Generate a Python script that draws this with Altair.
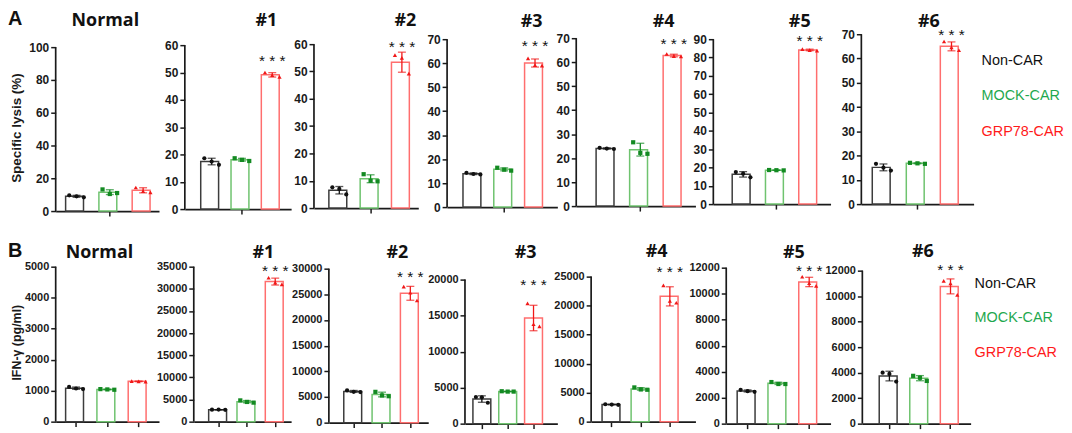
import altair as alt
import pandas as pd

groups = ["Non-CAR", "MOCK-CAR", "GRP78-CAR"]
legend_colors = ["#111111", "#1fa84f", "#ff1a1a"]
bar_colors = ["#3c3c3c", "#6fc36f", "#ff6e6e"]
dot_colors = ["#111111", "#138a22", "#f01818"]
dot_shapes = ["circle", "square", "triangle-up"]
panels = ["Normal", "#1", "#2", "#3", "#4", "#5", "#6"]

# Row A: specific lysis (%), three replicates per group (Non-CAR, MOCK-CAR, GRP78-CAR)
lysis_normal = [[9.6, 9.0, 8.4], [13.2, 10.4, 11.0], [14.4, 12.2, 11.4]]
lysis_1 = [[18.6, 17.4, 16.2], [18.6, 18.0, 17.6], [50.0, 49.0, 48.4]]
lysis_2 = [[7.6, 7.0, 5.0], [12.4, 10.0, 9.8], [56.0, 55.0, 49.2]]
lysis_3 = [[14.3, 13.8, 13.6], [16.4, 15.6, 15.2], [62.0, 59.2, 59.0]]
lysis_4 = [[24.3, 24.0, 23.8], [26.6, 22.2, 21.8], [63.4, 62.5, 62.4]]
lysis_5 = [[17.5, 16.6, 14.6], [18.6, 18.5, 18.4], [84.6, 84.0, 83.8]]
lysis_6 = [[16.6, 15.0, 13.8], [17.0, 16.8, 16.6], [67.0, 64.6, 63.4]]
lysis_sets = [lysis_normal, lysis_1, lysis_2, lysis_3, lysis_4, lysis_5, lysis_6]
lysis_ticks = [
    [0, 20, 40, 60, 80, 100],
    [0, 10, 20, 30, 40, 50, 60],
    [0, 10, 20, 30, 40, 50, 60],
    [0, 10, 20, 30, 40, 50, 60, 70],
    [0, 10, 20, 30, 40, 50, 60, 70],
    [0, 10, 20, 30, 40, 50, 60, 70, 80, 90],
    [0, 10, 20, 30, 40, 50, 60, 70],
]

# Row B: IFN-gamma (pg/ml)
ifn_normal = [[1120, 1070, 1050], [1050, 1040, 1030], [1310, 1300, 1290]]
ifn_1 = [[2700, 2720, 2680], [4800, 4450, 4300], [32500, 31400, 31000]]
ifn_2 = [[6300, 6000, 5950], [6000, 5300, 5150], [26500, 25300, 23800]]
ifn_3 = [[3700, 3650, 2900], [4500, 4450, 4450], [16700, 13800, 13500]]
ifn_4 = [[3000, 2950, 2900], [5900, 5550, 5500], [23500, 20800, 20500]]
ifn_5 = [[2600, 2500, 2450], [3200, 3050, 3050], [11300, 10800, 10600]]
ifn_6 = [[4000, 3900, 3300], [3750, 3600, 3350], [11200, 11000, 10100]]
ifn_sets = [ifn_normal, ifn_1, ifn_2, ifn_3, ifn_4, ifn_5, ifn_6]
ifn_ticks = [
    [0, 1000, 2000, 3000, 4000, 5000],
    [0, 5000, 10000, 15000, 20000, 25000, 30000, 35000],
    [0, 5000, 10000, 15000, 20000, 25000, 30000],
    [0, 5000, 10000, 15000, 20000],
    [0, 5000, 10000, 15000, 20000, 25000],
    [0, 2000, 4000, 6000, 8000, 10000, 12000],
    [0, 2000, 4000, 6000, 8000, 10000, 12000],
]

# ---- layout (pixel geometry, styling only) ----
# axis_x0, first bar start, last bar end, axis_x1, plot top, plot bottom, title center x, bar width, star dy
geom_a = [
    (53, 63, 152, 157, 40, 205, 103, 22, 0),
    (183, 199, 282, 290, 38, 203, 265, 22, -14),
    (313, 328, 412, 418, 37, 202, 405, 21, -10),
    (447, 463, 546, 558, 32, 201, 532, 21, -14),
    (577, 597, 686, 697, 31, 200, 665, 21.5, -12),
    (715, 734, 823, 833, 32, 198, 802, 22, -10),
    (864, 875, 966, 977, 27, 198, 932, 22.5, -9),
]
geom_b = [
    (53, 63, 147, 157, 263, 419, 97, 21, 0),
    (192, 207, 284, 290, 263, 419, 262, 20, -9),
    (328, 343, 420, 428, 265, 420, 397, 20, -12),
    (465, 473, 543, 558, 276, 421, 526, 18, -20),
    (592, 603, 681, 697, 273, 419, 658, 19.5, -15),
    (728, 739, 822, 833, 264, 421, 796, 21, -8),
    (865, 882, 964, 974, 267, 421, 926, 20.5, -13),
]
ROW_TOP = {"A": 27, "B": 263}
TITLE_GAP = {"A": 4, "B": 5}
AXIS_COLOR = "#1a1a1a"
TICK_FONT = "Liberation Sans"
TITLE_FONT = "Open Sans"


def make_panel(row, idx, reps, ticks, geo):
    x0, s1, e3, x1, top, bottom, tcx, bw, star_dy = geo
    T = ROW_TOP[row]
    W = x1 - x0
    H = bottom - T
    D = ticks[-1] * H / (bottom - top)
    step = (e3 - s1 - bw) / 2
    outer = W - (e3 - s1)
    x_scale = alt.Scale(
        domain=groups,
        paddingInner=1 - bw / step,
        paddingOuter=outer / (2 * step),
        align=(s1 - x0) / outer,
    )
    y_scale = alt.Scale(domain=[0, D], nice=False, zero=True)

    rows = []
    for g, vals in zip(groups, reps):
        for r, v in enumerate(vals):
            rows.append({"group": g, "rep": r, "value": v})
    df = pd.DataFrame(rows)

    xtick_vals = ["MOCK-CAR"] if row == "A" else groups
    x_enc = alt.X(
        "group:N",
        sort=groups,
        scale=x_scale,
        axis=alt.Axis(
            title=None, labels=False, values=xtick_vals, tickSize=5, tickWidth=1.5,
            tickColor=AXIS_COLOR, domainColor=AXIS_COLOR, domainWidth=1.7, grid=False,
        ),
    )
    lab_size = 12 if row == "A" else 11
    ax_kwargs = dict(
        values=ticks, domain=False, grid=False, tickSize=5, tickWidth=1.5,
        tickColor=AXIS_COLOR, labelFont=TICK_FONT, labelFontSize=lab_size,
        labelFontWeight="bold", labelColor=AXIS_COLOR, labelPadding=2,
        labelFlush=False, labelOverlap=False, format="d",
    )
    if idx == 0:
        ytitle = "Specific lysis (%)" if row == "A" else "IFN-\u03b3 (pg/ml)"
        ax_kwargs.update(
            title=ytitle, titleFont=TICK_FONT,
            titleFontSize=13.5 if row == "A" else 12.5, titleFontWeight="bold",
            titleColor=AXIS_COLOR, titleAngle=270, titleAlign="center",
            titleBaseline="middle", titleX=-39,
            titleY=(94 if row == "A" else 76),
        )
    else:
        ax_kwargs.update(title=None)
    y_axis = alt.Axis(**ax_kwargs)

    base = alt.Chart(df)
    bars = base.mark_bar(fill="white", strokeWidth=1.5).encode(
        x=x_enc,
        y=alt.Y("mean(value):Q", scale=y_scale, axis=y_axis),
        stroke=alt.Stroke("group:N", scale=alt.Scale(domain=groups, range=bar_colors), legend=None),
    )
    color_enc = alt.Color("group:N", scale=alt.Scale(domain=groups, range=dot_colors), legend=None)
    err = base.mark_errorbar(extent="stdev", ticks={"size": 8, "thickness": 1.3}, thickness=1.3).encode(
        x=x_enc,
        y=alt.Y("value:Q", scale=y_scale, axis=y_axis),
        color=color_enc,
    )
    pts = base.mark_point(filled=True, size=18, opacity=1).encode(
        x=x_enc,
        xOffset=alt.XOffset("rep:N", scale=alt.Scale(paddingInner=0, paddingOuter=0.5)),
        y=alt.Y("value:Q", scale=y_scale, axis=y_axis),
        color=color_enc,
        shape=alt.Shape("group:N", scale=alt.Scale(domain=groups, range=dot_shapes), legend=None),
    )
    axis_df = pd.DataFrame({"lo": [ticks[0]], "hi": [ticks[-1]]})
    yrule = alt.Chart(axis_df).mark_rule(strokeWidth=1.7, color=AXIS_COLOR).encode(
        x=alt.value(0),
        y=alt.Y("lo:Q", scale=y_scale, axis=y_axis),
        y2="hi:Q",
    )
    layers = [bars, err, pts, yrule]
    if idx > 0:
        stars = base.transform_filter(alt.datum.group == "GRP78-CAR").mark_text(
            text="* * *", fontSize=15.5, font=TICK_FONT, color="#111111", dy=star_dy + 2, baseline="middle",
        ).encode(
            x=x_enc,
            y=alt.Y("max(value):Q", scale=y_scale, axis=y_axis),
        )
        layers.append(stars)

    overhang = max(0.0, lab_size / 2 + 1 - (top - T))
    title = alt.TitleParams(
        text=panels[idx], font=TITLE_FONT, fontSize=18, fontWeight="bold", color="#111111",
        anchor="middle", frame="group", dx=tcx - (x0 + W / 2), offset=TITLE_GAP[row] - overhang,
    )
    return alt.layer(*layers).properties(width=W, height=H, title=title)


def spacer(w, label=None, row="A"):
    ch = alt.Chart(pd.DataFrame({"z": [0]})).mark_point(opacity=0).encode(
        x=alt.value(0)
    )
    props = dict(width=w, height=10)
    if label is not None:
        props["title"] = alt.TitleParams(
            text=label, anchor="start", frame="group", font=TICK_FONT, fontSize=20,
            fontWeight="bold", color="#111111", dx=-47, offset=TITLE_GAP[row] + 1,
        )
    return ch.properties(**props)


def legend_panel(row):
    if row == "A":
        h, pad, gap = 125, 0.76, 8
    else:
        h, pad, gap = 104, 0.49, 4
    ch = alt.Chart(pd.DataFrame({"group": groups})).mark_text(
        align="left", baseline="middle", fontSize=14.5, font=TICK_FONT
    ).encode(
        x=alt.value(0),
        y=alt.Y("group:N", sort=groups, scale=alt.Scale(type="point", padding=pad), axis=None),
        text="group:N",
        color=alt.Color("group:N", scale=alt.Scale(domain=groups, range=legend_colors), legend=None),
    ).properties(width=70, height=h)
    return gap, ch


def make_row(row, sets, tick_sets, geoms):
    items = [spacer(1, row, row)]
    for i in range(7):
        if i > 0:
            items.append(spacer(geoms[i][0] - geoms[i - 1][3]))
        items.append(make_panel(row, i, sets[i], tick_sets[i], geoms[i]))
    gap, leg = legend_panel(row)
    items.append(spacer(gap))
    items.append(leg)
    return alt.hconcat(*items, spacing=0, bounds="flush").resolve_scale(
        x="independent", y="independent", color="independent",
        stroke="independent", shape="independent", xOffset="independent")


row_a = make_row("A", lysis_sets, lysis_ticks, geom_a)
row_b = make_row("B", ifn_sets, ifn_ticks, geom_b)

chart = alt.vconcat(row_a, row_b, spacing=24).resolve_scale(
    x="independent", y="independent", color="independent",
    stroke="independent", shape="independent", xOffset="independent",
).configure_view(stroke=None).properties(padding=0, background="white")

chart.save("out.html", embed_options={"renderer": "svg", "actions": False})
